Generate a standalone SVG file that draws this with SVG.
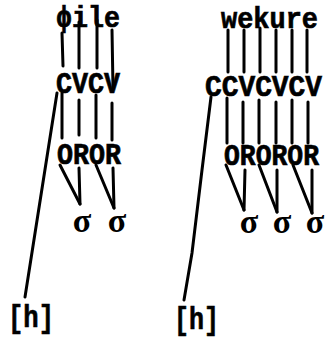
<svg xmlns="http://www.w3.org/2000/svg" width="325" height="339" viewBox="0 0 325 339">
<style>
.t{font-family:"Liberation Mono","DejaVu Sans Mono",monospace;font-weight:bold;fill:#000;stroke:#000;stroke-width:0.7}
.s{font-family:"Liberation Serif","DejaVu Serif",serif;font-weight:bold;fill:#000}
.c line,.c polyline{stroke:#000;stroke-width:3;fill:none;stroke-linecap:round}
</style>
<rect width="325" height="339" fill="#fff"/>
<g id="left-word"><text class="t" x="56" y="27" font-size="30" textLength="64" lengthAdjust="spacingAndGlyphs">ɸile</text></g>
<g id="left-skeleton"><text class="t" x="56" y="93" font-size="30" textLength="64" lengthAdjust="spacingAndGlyphs">CVCV</text></g>
<g id="left-onsets"><text class="t" x="57" y="164" font-size="30" textLength="64" lengthAdjust="spacingAndGlyphs">OROR</text></g>
<g id="left-syll-1"><text class="s" x="82" y="232" font-size="34" text-anchor="middle">σ</text></g>
<g id="left-syll-2"><text class="s" x="117" y="232" font-size="34" text-anchor="middle">σ</text></g>
<g id="left-h"><text class="t" x="8" y="327" font-size="32" textLength="46" lengthAdjust="spacingAndGlyphs">[h]</text></g>
<g id="right-word"><text class="t" x="221" y="28" font-size="30" textLength="97" lengthAdjust="spacingAndGlyphs">wekure</text></g>
<g id="right-skeleton"><text class="t" x="205" y="96" font-size="30" textLength="117" lengthAdjust="spacingAndGlyphs">CCVCVCV</text></g>
<g id="right-onsets"><text class="t" x="224" y="165" font-size="30" textLength="95" lengthAdjust="spacingAndGlyphs">OROROR</text></g>
<g id="right-syll-1"><text class="s" x="249" y="233" font-size="34" text-anchor="middle">σ</text></g>
<g id="right-syll-2"><text class="s" x="282" y="233" font-size="34" text-anchor="middle">σ</text></g>
<g id="right-syll-3"><text class="s" x="315" y="233" font-size="34" text-anchor="middle">σ</text></g>
<g id="right-h"><text class="t" x="174" y="329" font-size="32" textLength="45" lengthAdjust="spacingAndGlyphs">[h]</text></g>
<g class="c" id="connectors">
<line x1="62" y1="33" x2="63" y2="66"/>
<line x1="79" y1="22" x2="79" y2="68"/>
<line x1="97" y1="20" x2="97" y2="68"/>
<line x1="112" y1="30" x2="113" y2="88"/>
<line x1="62" y1="93" x2="62" y2="138"/>
<line x1="79" y1="100" x2="79" y2="135"/>
<line x1="96" y1="95" x2="96" y2="138"/>
<line x1="112" y1="103" x2="112" y2="140"/>
<line x1="60" y1="165" x2="80" y2="204"/>
<line x1="79" y1="168" x2="80" y2="204"/>
<line x1="96" y1="165" x2="114" y2="208"/>
<line x1="113" y1="168" x2="114" y2="208"/>
<line x1="25" y1="297" x2="57" y2="93"/>
<line x1="228" y1="30" x2="228" y2="72"/>
<line x1="244" y1="30" x2="244" y2="72"/>
<line x1="260" y1="28" x2="260" y2="72"/>
<line x1="276" y1="30" x2="276" y2="72"/>
<line x1="292" y1="30" x2="292" y2="72"/>
<line x1="307" y1="30" x2="307" y2="72"/>
<line x1="227" y1="98" x2="227" y2="143"/>
<line x1="243" y1="102" x2="243" y2="143"/>
<line x1="259" y1="100" x2="259" y2="143"/>
<line x1="276" y1="102" x2="276" y2="143"/>
<line x1="292" y1="100" x2="292" y2="143"/>
<line x1="308" y1="102" x2="308" y2="143"/>
<line x1="226" y1="165" x2="244" y2="210"/>
<line x1="245" y1="170" x2="244" y2="210"/>
<line x1="259" y1="165" x2="277" y2="212"/>
<line x1="277" y1="170" x2="277" y2="212"/>
<line x1="293" y1="165" x2="312" y2="213"/>
<line x1="312" y1="170" x2="312" y2="213"/>
<polyline points="211,97 202,170 192,253 184,300"/>
</g>
</svg>
